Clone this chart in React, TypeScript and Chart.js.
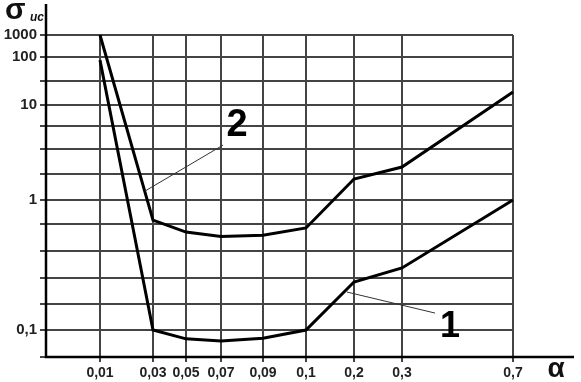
import React, { useEffect, useRef } from 'react';
import { Chart, registerables, LinearScale } from 'chart.js';

Chart.register(...registerables);

// ---- data ----
const alphaValues = [0.01, 0.03, 0.05, 0.07, 0.09, 0.1, 0.2, 0.3, 0.7];
const alphaLabels = ['0,01', '0,03', '0,05', '0,07', '0,09', '0,1', '0,2', '0,3', '0,7'];
const sigmaCurve1 = [86, 0.1, 0.086, 0.083, 0.087, 0.1, 0.234, 0.298, 1.0];
const sigmaCurve2 = [1000, 0.68, 0.55, 0.51, 0.52, 0.59, 1.59, 2.09, 18.6];
const sigmaTickValues = [1000, 100, 10, 1, 0.1];
const sigmaTickLabels = ['1000', '100', '10', '1', '0,1'];
const sigmaTickGridIndex = [0, 1, 3, 7, 12];

// ---- axis geometry (scale layout, in scale units) ----
const X_TICK_POS = [54, 107, 140, 175, 217, 260, 308, 356, 467];
const X_MAX = 467;
const Y_GRID_POS = [0, 22, 46, 70, 91, 114, 139, 165, 189, 216, 243, 269, 295, 322];
const Y_MAX = 322;

function interp(v: number, xs: number[], ys: number[]) {
  const n = xs.length;
  let i = 0;
  const asc = xs[n - 1] > xs[0];
  while (i < n - 2 && (asc ? v > xs[i + 1] : v < xs[i + 1])) i++;
  const t = (v - xs[i]) / (xs[i + 1] - xs[i]);
  return ys[i] + t * (ys[i + 1] - ys[i]);
}

function alphaToPos(a: number) {
  return interp(a, alphaValues, X_TICK_POS);
}

function sigmaToPos(s: number) {
  const g = interp(Math.log10(s), sigmaTickValues.map((v) => Math.log10(v)), sigmaTickGridIndex);
  const idx = Y_GRID_POS.map((_, i) => i);
  return interp(g, idx, Y_GRID_POS);
}

class AlphaScale extends LinearScale {
  static id = 'alphaAxis';
  parse(raw: any, index: number) {
    const v = super.parse(raw, index);
    return v === null || v === undefined ? null : alphaToPos(v as number);
  }
  determineDataLimits() {
    this.min = 0;
    this.max = X_MAX;
  }
  buildTicks() {
    return X_TICK_POS.map((value) => ({ value }));
  }
}

class SigmaScale extends LinearScale {
  static id = 'sigmaAxis';
  parse(raw: any, index: number) {
    const v = super.parse(raw, index);
    return v === null || v === undefined ? null : sigmaToPos(v as number);
  }
  determineDataLimits() {
    this.min = 0;
    this.max = Y_MAX;
  }
  buildTicks() {
    return Y_GRID_POS.map((value) => ({ value }));
  }
}

Chart.register(AlphaScale as any, SigmaScale as any);

// annotation labels with leader lines (data coordinates)
const curveNotes = [
  { text: '2', alpha: 0.0776, sigma: 6.27, size: 38, fromAlpha: 0.027, fromSigma: 1.22, toAlpha: 0.071, toSigma: 3.49 },
  { text: '1', alpha: 0.473, sigma: 0.111, size: 36, fromAlpha: 0.185, fromSigma: 0.196, toAlpha: 0.419, toSigma: 0.135 },
];

const FONT = '"Liberation Sans", Arial, sans-serif';

const overlayPlugin = {
  id: 'overlay',
  afterDraw(chart: any) {
    const { ctx, chartArea } = chart;
    const { left, bottom } = chartArea;
    const xs = chart.scales.x;
    const ys = chart.scales.y;
    const px = (a: number) => xs.getPixelForValue(alphaToPos(a));
    const py = (s: number) => ys.getPixelForValue(sigmaToPos(s));
    ctx.save();
    // extended axes
    ctx.strokeStyle = '#000';
    ctx.lineWidth = 2.5;
    ctx.beginPath();
    ctx.moveTo(left, 4);
    ctx.lineTo(left, bottom);
    ctx.lineTo(574, bottom);
    ctx.stroke();

    // leader lines and labels
    for (const n of curveNotes) {
      ctx.strokeStyle = '#333';
      ctx.lineWidth = 1;
      ctx.beginPath();
      ctx.moveTo(px(n.fromAlpha), py(n.fromSigma));
      ctx.lineTo(px(n.toAlpha), py(n.toSigma));
      ctx.stroke();
      ctx.fillStyle = '#000';
      ctx.font = `bold ${n.size}px ${FONT}`;
      ctx.textAlign = 'center';
      ctx.textBaseline = 'alphabetic';
      ctx.fillText(n.text, px(n.alpha), py(n.sigma) + n.size * 0.36);
    }

    // axis titles
    ctx.fillStyle = '#111';
    ctx.textAlign = 'left';
    ctx.textBaseline = 'alphabetic';
    ctx.font = `bold 30px ${FONT}`;
    ctx.fillText('σ', 5, 19);
    ctx.font = `italic bold 12px ${FONT}`;
    ctx.fillText('ис', 30, 21);
    ctx.font = `bold 28px ${FONT}`;
    ctx.textAlign = 'center';
    ctx.fillText('α', 556, 377);
    ctx.restore();
  },
};

export default function App() {
  const canvasRef = useRef<HTMLCanvasElement | null>(null);

  useEffect(() => {
    if (!canvasRef.current) return;
    const gridColor = '#444';
    const chart = new Chart(canvasRef.current, {
      type: 'line',
      data: {
        datasets: [
          {
            label: '1',
            data: sigmaCurve1.map((s, i) => ({ x: alphaValues[i], y: s })),
            borderColor: '#000',
            borderWidth: 3,
            pointRadius: 0,
            tension: 0,
            fill: false,
          },
          {
            label: '2',
            data: sigmaCurve2.map((s, i) => ({ x: alphaValues[i], y: s })),
            borderColor: '#000',
            borderWidth: 3,
            pointRadius: 0,
            tension: 0,
            fill: false,
          },
        ],
      },
      options: {
        animation: false,
        responsive: false,
        maintainAspectRatio: false,
        layout: { padding: { left: 0, right: 68, top: 35, bottom: 0 } },
        plugins: { legend: { display: false }, tooltip: { enabled: false } },
        scales: {
          x: {
            type: 'alphaAxis' as any,
            afterFit: (s: any) => {
              s.height = 25;
            },
            grid: { color: gridColor, lineWidth: 2, drawTicks: true, tickLength: 5, tickColor: gridColor },
            border: { display: false },
            ticks: {
              autoSkip: false,
              maxRotation: 0,
              padding: 3,
              color: '#222',
              font: { family: FONT, size: 14, weight: 'bold' },
              callback: (_v: any, i: number) => alphaLabels[i],
            },
          },
          y: {
            type: 'sigmaAxis' as any,
            reverse: true,
            afterFit: (s: any) => {
              s.width = 46;
            },
            grid: { color: gridColor, lineWidth: 2, drawTicks: true, tickLength: 6, tickColor: gridColor },
            border: { display: false },
            ticks: {
              autoSkip: false,
              padding: 3,
              color: '#222',
              font: { family: FONT, size: 15, weight: 'bold' },
              callback: (_v: any, i: number) => {
                const k = sigmaTickGridIndex.indexOf(i);
                return k >= 0 ? sigmaTickLabels[k] : '';
              },
            },
          },
        },
      } as any,
      plugins: [overlayPlugin],
    });
    return () => chart.destroy();
  }, []);

  return (
    <div style={{ position: 'absolute', left: 0, top: 0, width: 581, height: 382, background: '#fff' }}>
      <canvas ref={canvasRef} width={581} height={382} style={{ display: 'block' }} />
    </div>
  );
}
